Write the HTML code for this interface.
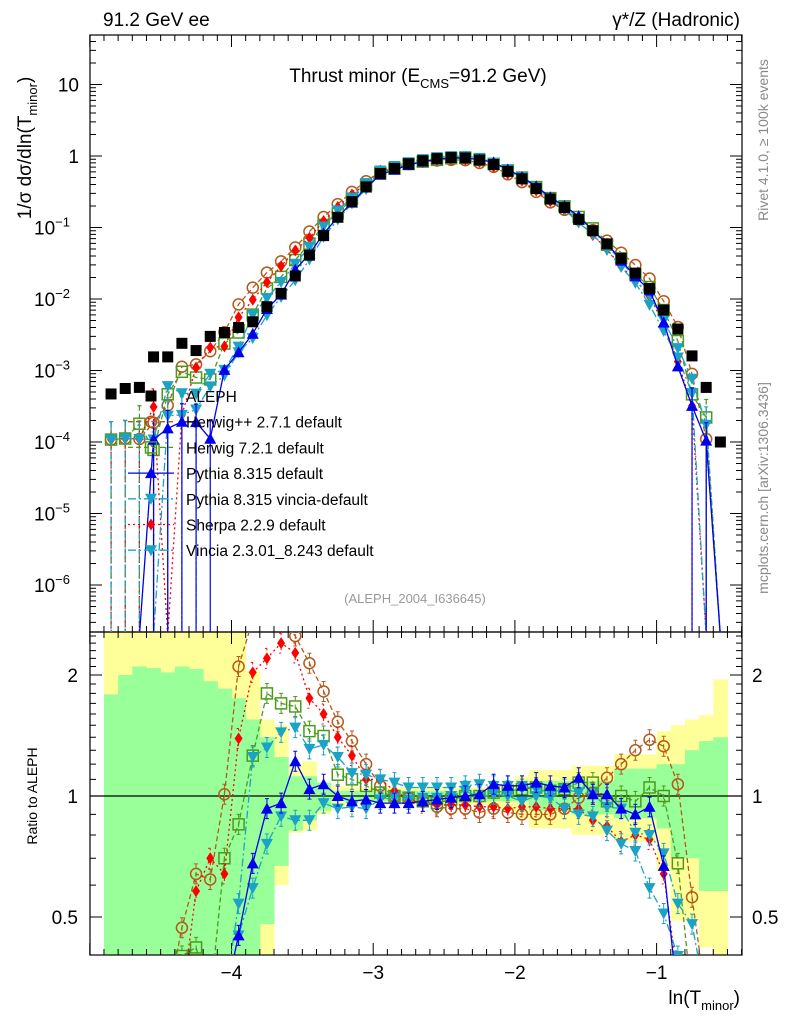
<!DOCTYPE html>
<html><head><meta charset="utf-8"><style>
html,body{margin:0;padding:0;background:#fff;width:786px;height:1024px;overflow:hidden}
svg{display:block;font-family:"Liberation Sans",sans-serif}
</style></head><body>
<svg id="c" width="786" height="1024" viewBox="0 0 786 1024" xmlns="http://www.w3.org/2000/svg">
<defs>
<clipPath id="cm"><rect x="90" y="35" width="652" height="597"/></clipPath>
<clipPath id="cr"><rect x="90" y="632" width="652" height="323"/></clipPath>
</defs>
<g id="bands" clip-path="url(#cr)"></g>
<g id="axes"></g>
<g id="mainS" clip-path="url(#cm)"></g>
<g id="ratS" clip-path="url(#cr)"></g>
<g id="leg"></g>
<text x="103" y="26" font-size="19">91.2 GeV ee</text>
<text x="740" y="26" font-size="19" text-anchor="end">γ*/Z (Hadronic)</text>
<text x="418" y="82" font-size="19" text-anchor="middle">Thrust minor (E<tspan font-size="13" dy="6">CMS</tspan><tspan dy="-6">=91.2 GeV)</tspan></text>
<text x="415" y="603" font-size="13" fill="#999" text-anchor="middle">(ALEPH_2004_I636645)</text>
<text transform="translate(768,140) rotate(-90)" font-size="14" fill="#888" text-anchor="middle">Rivet 4.1.0, ≥ 100k events</text>
<text transform="translate(768,488) rotate(-90)" font-size="14" fill="#888" text-anchor="middle">mcplots.cern.ch [arXiv:1306.3436]</text>
<text transform="translate(31,148) rotate(-90)" font-size="19" text-anchor="middle">1/σ  dσ/dln(T<tspan font-size="13" dy="6">minor</tspan><tspan dy="-6">)</tspan></text>
<text transform="translate(37,796) rotate(-90)" font-size="14" text-anchor="middle">Ratio to ALEPH</text>
<text x="740" y="1004" font-size="19" text-anchor="end">ln(T<tspan font-size="13" dy="6">minor</tspan><tspan dy="-6">)</tspan></text>
</svg>
<script>
const xs=[-4.85,-4.75,-4.65,-4.55,-4.45,-4.35,-4.25,-4.15,-4.05,-3.95,-3.85,-3.75,-3.65,-3.55,-3.45,-3.35,-3.25,-3.15,-3.05,-2.95,-2.85,-2.75,-2.65,-2.55,-2.45,-2.35,-2.25,-2.15,-2.05,-1.95,-1.85,-1.75,-1.65,-1.55,-1.45,-1.35,-1.25,-1.15,-1.05,-0.95,-0.85,-0.75,-0.65,-0.55];
const aleph=[4.7e-4,5.6e-4,5.8e-4,1.55e-3,1.55e-3,2.4e-3,1.9e-3,3.0e-3,3.4e-3,4.0e-3,4.8e-3,7.8e-3,1.2e-2,2.1e-2,4.1e-2,7.7e-2,0.139,0.23,0.37,0.57,0.67,0.78,0.86,0.92,0.95,0.94,0.88,0.76,0.61,0.48,0.35,0.25,0.19,0.13,0.09,0.059,0.037,0.023,0.014,0.007,0.0038,0.0016,5.8e-4,1.0e-4];
const herwigpp=[0.23,0.2,0.19,0.12,0.21,0.47,0.64,0.62,1.01,2.1,3.0,3.0,2.8,2.5,2.14,1.82,1.53,1.37,1.2,1.06,1.0,0.99,0.97,0.94,0.93,0.93,0.91,0.93,0.91,0.9,0.9,0.9,0.93,0.99,1.02,1.11,1.2,1.3,1.38,1.33,1.07,0.56,0.19,null];
const herwig7=[0.23,0.2,0.31,0.05,0.3,0.4,0.42,0.25,0.7,0.85,1.26,1.8,1.7,1.67,1.45,1.41,1.13,1.1,1.06,1.02,1.0,0.99,0.97,0.96,0.98,1.0,1.0,1.02,1.03,1.04,1.05,1.03,1.04,1.08,1.08,0.97,1.0,0.97,1.05,1.0,0.68,0.29,0.38,null];
const pythia=[null,null,null,0.07,0.1,0.08,0.1,0.037,0.3,0.45,0.68,0.93,0.96,1.22,1.04,1.07,1.0,0.97,0.98,0.96,0.96,0.96,0.97,0.98,0.99,1.0,1.01,1.07,1.06,1.06,1.08,1.06,1.05,1.11,1.01,1.01,0.93,0.9,0.94,0.67,0.3,0.2,0.18,null];
const pythiaVincia=[0.23,0.2,0.19,0.07,0.39,0.2,0.25,0.3,0.3,0.54,1.25,1.32,1.44,1.48,1.31,1.34,1.25,1.14,1.13,1.1,1.08,1.05,1.05,1.05,1.05,1.06,1.07,1.06,1.06,1.06,1.04,1.02,1.04,1.02,1.01,0.94,0.93,0.81,0.8,0.72,0.54,0.48,0.3,null];
const sherpa=[0.23,0.2,0.19,0.2,null,0.1,0.58,0.7,0.64,1.39,2.03,2.2,2.4,2.27,1.75,1.6,1.4,1.26,1.1,1.1,1.03,0.98,0.96,0.95,0.95,0.95,0.94,0.94,0.93,0.94,0.94,0.93,0.93,0.93,0.87,0.84,0.77,0.8,0.78,0.64,0.35,0.2,null,null];
const vincia=[null,null,null,null,0.15,0.1,0.15,0.2,0.25,0.45,0.59,0.76,0.89,0.87,0.87,0.96,0.93,0.94,0.93,0.98,0.99,0.98,0.99,0.99,1.0,1.03,0.99,1.01,1.0,0.97,1.0,0.99,0.93,0.9,0.89,0.82,0.76,0.73,0.59,0.51,0.4,0.3,null,null];
const yelUp=[3,3,3,3,3,3,3,3,3,3,2.05,1.55,1.5,1.2,1.22,1.08,1.06,1.05,1.05,1.05,1.05,1.05,1.05,1.05,1.05,1.05,1.05,1.06,1.08,1.12,1.16,1.16,1.16,1.19,1.19,1.19,1.27,1.27,1.27,1.45,1.5,1.55,1.59,1.95];
const yelLo=[0.34,0.34,0.34,0.34,0.34,0.34,0.34,0.34,0.34,0.34,0.34,0.34,0.6,0.81,0.82,0.9,0.93,0.95,0.95,0.95,0.95,0.95,0.95,0.95,0.95,0.95,0.95,0.94,0.92,0.88,0.83,0.83,0.83,0.8,0.8,0.8,0.77,0.77,0.77,0.65,0.49,0.49,0.42,0.34];
const grnUp=[1.79,2.0,2.1,2.08,2.03,2.1,2.07,1.93,1.85,1.75,1.55,1.4,1.25,1.12,1.12,1.08,1.03,1.03,1.03,1.03,1.03,1.03,1.03,1.03,1.03,1.03,1.03,1.03,1.03,1.03,1.09,1.09,1.09,1.09,1.09,1.09,1.17,1.17,1.17,1.2,1.2,1.3,1.37,1.4];
const grnLo=[0.34,0.34,0.34,0.34,0.34,0.34,0.34,0.34,0.34,0.34,0.34,0.48,0.67,0.82,0.87,0.92,0.97,0.97,0.97,0.97,0.97,0.97,0.97,0.97,0.97,0.97,0.97,0.97,0.97,0.97,0.92,0.92,0.92,0.9,0.9,0.9,0.88,0.88,0.88,0.83,0.7,0.7,0.58,0.58];
const xTicks=[-4,-3,-2,-1];
const xTickLabels=["−4","−3","−2","−1"];
const ratioTicks=[0.5,1,2];
const ratioTickLabels=["0.5","1","2"];

const NS="http://www.w3.org/2000/svg";
const X=v=>798.3+141.7*v;
const Ym=v=>156-71.5*Math.log10(v);
const Yr=r=>796-121*Math.log2(r);
const clampR=y=>Math.max(620,Math.min(1000,y));
const BW=0.1;
function mk(p,tag,at){const e=document.createElementNS(NS,tag);for(const k in at)e.setAttribute(k,at[k]);p.appendChild(e);return e;}
const bands=document.getElementById('bands'),axes=document.getElementById('axes'),mainS=document.getElementById('mainS'),ratS=document.getElementById('ratS'),leg=document.getElementById('leg');

for(let i=0;i<xs.length;i++){
  const x0=X(xs[i]-BW/2),x1=X(xs[i]+BW/2);
  const r=mk(bands,'rect',{x:x0,y:Math.max(632,Yr(yelUp[i])),width:x1-x0+0.5,height:Math.min(955,Yr(yelLo[i]))-Math.max(632,Yr(yelUp[i])),fill:'#ffff99'});
  
  
}
for(let i=0;i<xs.length;i++){
  const x0=X(xs[i]-BW/2),x1=X(xs[i]+BW/2);
  const r=mk(bands,'rect',{x:x0,y:Math.max(632,Yr(grnUp[i])),width:x1-x0+0.5,height:Math.min(955,Yr(grnLo[i]))-Math.max(632,Yr(grnUp[i])),fill:'#99ff99'});
  
  
}

const f1=mk(axes,'rect',{x:90,y:35,width:652,height:597,fill:'none',stroke:'#000','stroke-width':1.2});


const f2=mk(axes,'rect',{x:90,y:632,width:652,height:323,fill:'none',stroke:'#000','stroke-width':1.2});


const one=mk(axes,'line',{x1:90,x2:742,y1:Yr(1),y2:Yr(1),stroke:'#000','stroke-width':1.2});


let tp='';
for(let t=-50;t<=-4;t++){const v=t/10,x=X(v);const big=(t%10===0);const L=big?12:6;
  tp+=`M${x},955v${-L}M${x},632v${L}M${x},632v${-L}M${x},35v${L}`;}
for(let d=-7;d<=1;d++){for(let m=1;m<10;m++){const v=m*Math.pow(10,d);const y=Ym(v);if(y<35||y>632)continue;const L=m===1?12:6;tp+=`M90,${y}h${L}M742,${y}h${-L}`;}}
for(let m=3;m<=25;m++){const v=m/10;const y=Yr(v);if(y<632||y>955)continue;const L=(v===0.5||v===1||v===2)?12:6;tp+=`M90,${y}h${L}M742,${y}h${-L}`;}
const tk=mk(axes,'path',{d:tp,stroke:'#000','stroke-width':1,fill:'none'});


xTicks.forEach((v,i)=>{const t=mk(axes,'text',{x:X(v),y:979,'font-size':19,'text-anchor':'middle'});t.textContent=xTickLabels[i];
  
  });
ratioTicks.forEach((v,i)=>{
  const t=mk(axes,'text',{x:78,y:Yr(v)+7,'font-size':19,'text-anchor':'end'});t.textContent=ratioTickLabels[i];
  
  
  const t2=mk(axes,'text',{x:752,y:Yr(v)+7,'font-size':19});t2.textContent=ratioTickLabels[i];
  
  });
for(let d=-6;d<=1;d++){
  const y=Ym(Math.pow(10,d))+7;
  const t=mk(axes,'text',{x:79,y:y,'font-size':19,'text-anchor':'end'});
  if(d===0)t.textContent='1';else if(d===1)t.textContent='10';
  else{t.textContent='10';const s=mk(t,'tspan',{dy:-8,'font-size':13});s.textContent='−'+(-d);t.setAttribute('x',70);}
  
  
}

const series=[
 {name:'herwigpp',r:herwigpp,c:'#b35a1a',dash:'5,3',m:'circle'},
 {name:'herwig7',r:herwig7,c:'#4c9a1c',dash:'5,3',m:'square'},
 {name:'sherpa',r:sherpa,c:'#ff0000',dash:'2,3',m:'diamond'},
 {name:'vincia',r:vincia,c:'#1ba3c6',dash:'8,3,2,3',m:'tdown'},
 {name:'pythia-vincia',r:pythiaVincia,c:'#1ba3c6',dash:'8,3,2,3',m:'tdown'},
 {name:'pythia',r:pythia,c:'#0000ee',dash:'',m:'tup'}];
function marker(g,type,x,y,c){
  let e;
  if(type==='circle')e=mk(g,'circle',{cx:x,cy:y,r:5.5,fill:'none',stroke:c,'stroke-width':1.5});
  else if(type==='square')e=mk(g,'rect',{x:x-5.5,y:y-5.5,width:11,height:11,fill:'none',stroke:c,'stroke-width':1.5});
  else if(type==='fsquare')e=mk(g,'rect',{x:x-5.5,y:y-5.5,width:11,height:11,fill:c});
  else if(type==='diamond')e=mk(g,'path',{d:`M${x},${y-6}L${x+4},${y}L${x},${y+6}L${x-4},${y}Z`,fill:c});
  else if(type==='tup')e=mk(g,'path',{d:`M${x},${y-6}L${x+6},${y+5}L${x-6},${y+5}Z`,fill:c});
  else e=mk(g,'path',{d:`M${x},${y+6}L${x+6},${y-5}L${x-6},${y-5}Z`,fill:c});
  return e;
}
series.forEach(s=>{
  const gm=mk(mainS,'g',{});
  
  
  const gr=mk(ratS,'g',{});
  
  
  let dm='',dr='',firstM=true,firstR=true;
  s.r.forEach((r,i)=>{
    const x=X(xs[i]);
    const ym=r===null?636:Ym(r*aleph[i]);
    dm+=(firstM?'M':'L')+x+','+ym;firstM=false;
    if(r!==null){dr+=(firstR?'M':'L')+x+','+clampR(Yr(r));firstR=false;}
    else if(!firstR){dr+='L'+x+',1000';firstR=true;}
  });
  mk(gm,'path',{d:dm,fill:'none',stroke:s.c,'stroke-width':1.3,'stroke-dasharray':s.dash});
  mk(gr,'path',{d:dr,fill:'none',stroke:s.c,'stroke-width':1.3,'stroke-dasharray':s.dash});
  s.r.forEach((r,i)=>{if(r===null)return;const x=X(xs[i]);
    const v=r*aleph[i];const my=Ym(v);
    if(v<3.5e-4){mk(gm,'path',{d:`M${x},${my-18}V632M${x-2},${my-18}h4`,stroke:s.c,'stroke-width':1.2,'stroke-dasharray':s.dash,'stroke-linecap':'butt'});}
    const pm=marker(gm,s.m,x,my,s.c);
    
    
    const ry=Yr(r);
    if(ry<628||ry>959)return;
    mk(gr,'path',{d:`M${x},${ry-10}V${ry+10}M${x-2},${ry-10}h4M${x-2},${ry+10}h4`,stroke:s.c,'stroke-width':1,'stroke-dasharray':s.dash});
    const pr=marker(gr,s.m,x,ry,s.c);
    
    
  });
});
const ga=mk(mainS,'g',{});


aleph.forEach((v,i)=>{const p=marker(ga,'fsquare',X(xs[i]),Ym(v),'#000');
  
  });

const legItems=[['ALEPH','#000','','fsquare'],['Herwig++ 2.7.1 default','#b35a1a','5,3','circle'],['Herwig 7.2.1 default','#4c9a1c','5,3','square'],['Pythia 8.315 default','#0000ee','','tup'],['Pythia 8.315 vincia-default','#1ba3c6','8,3,2,3','tdown'],['Sherpa 2.2.9 default','#ff0000','2,3','diamond'],['Vincia 2.3.01_8.243 default','#1ba3c6','8,3,2,3','tdown']];
legItems.forEach((it,i)=>{
  const y=396+25.7*i;
  const g=mk(leg,'g',{});
  
  
  if(i>0)mk(g,'line',{x1:128,x2:174,y1:y,y2:y,stroke:it[1],'stroke-width':1.3,'stroke-dasharray':it[2]});
  marker(g,it[3],151,y,it[1]);
  const t=mk(g,'text',{x:186,y:y+6,'font-size':15.5});t.textContent=it[0];
});
</script>
</body></html>
